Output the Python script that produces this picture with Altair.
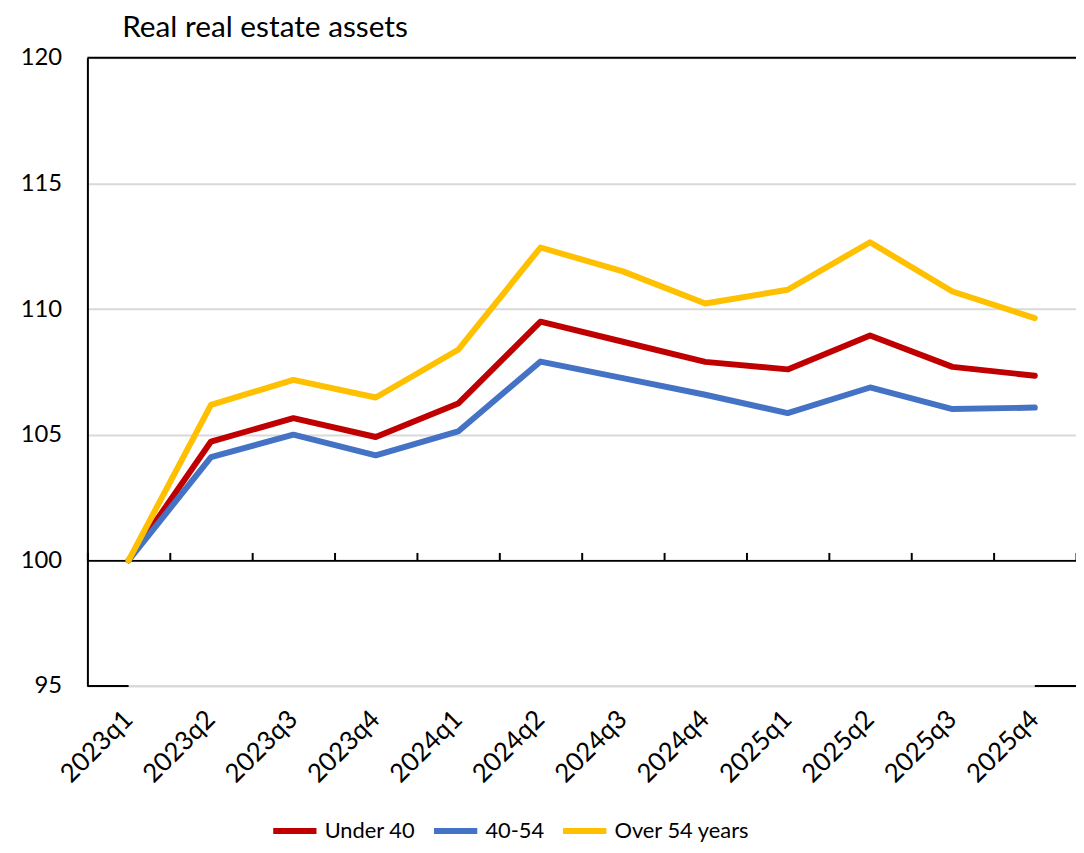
import altair as alt
import pandas as pd

quarters = ["2023q1", "2023q2", "2023q3", "2023q4", "2024q1", "2024q2",
            "2024q3", "2024q4", "2025q1", "2025q2", "2025q3", "2025q4"]
under_40 = [100, 104.73, 105.66, 104.91, 106.24, 109.5, 108.7, 107.9, 107.6, 108.95, 107.7, 107.35]
age_40_54 = [100, 104.11, 105.0, 104.18, 105.13, 107.91, 107.25, 106.59, 105.86, 106.88, 106.02, 106.08]
over_54 = [100, 106.19, 107.18, 106.48, 108.38, 112.45, 111.5, 110.22, 110.77, 112.66, 110.7, 109.64]
series_names = ["Under 40", "40-54", "Over 54 years"]
series_colors = ["#C00000", "#4472C4", "#FFC000"]
y_ticks = [95, 100, 105, 110, 115, 120]
title_text = "Real real estate assets"

rows = []
for name, vals in zip(series_names, [under_40, age_40_54, over_54]):
    for i, (q, v) in enumerate(zip(quarters, vals)):
        rows.append({"quarter": q, "value": v, "series": name,
                     "order": series_names.index(name)})
df = pd.DataFrame(rows)

FONT = "Lato"
W, H = 996, 633

xscale = alt.Scale(type="band", domain=quarters, paddingInner=0, paddingOuter=0)
yscale = alt.Scale(domain=[95, 120], nice=False, zero=False)

lines = alt.Chart(df).mark_line(strokeWidth=6, strokeCap="round", strokeJoin="round").encode(
    x=alt.X("quarter:N", scale=xscale, bandPosition=0.5, sort=quarters,
            axis=alt.Axis(orient="bottom", title=None, domain=False, ticks=False,
                          labelAngle=315, labelAlign="right", labelBaseline="middle",
                          labelFontSize=26, labelFont=FONT, labelColor="black",
                          labelPadding=29, grid=False)),
    y=alt.Y("value:Q", scale=yscale,
            axis=alt.Axis(values=y_ticks, title=None, domain=True, domainColor="black",
                          domainWidth=2, ticks=False, labelFontSize=24, labelFont=FONT,
                          labelColor="black", labelPadding=26, grid=True,
                          gridColor="#d9d9d9", gridWidth=2)),
    color=alt.Color("series:N", scale=alt.Scale(domain=series_names, range=series_colors),
                    legend=alt.Legend(orient="none", legendX=184, legendY=754,
                                      direction="horizontal", title=None,
                                      symbolType="stroke", symbolSize=1900,
                                      symbolStrokeWidth=6, labelFontSize=22,
                                      labelFont=FONT, labelColor="black",
                                      columnPadding=6, labelOffset=5, padding=0)),
    order=alt.Order("order:Q"),
)

tick_axis = alt.Chart(df).mark_line(opacity=0).encode(
    x=alt.X("quarter:N", scale=xscale, bandPosition=0.5, sort=quarters,
            axis=alt.Axis(orient="top", offset=-(H * 5 / 25) * 4, title=None,
                          labels=False, domain=True, domainColor="black", domainWidth=2,
                          ticks=True, tickColor="black", tickWidth=2, tickSize=8,
                          tickBand="extent", grid=False)),
    y=alt.Y("value:Q", scale=yscale),
    detail="series:N",
)

top_rule = alt.Chart(pd.DataFrame({"v": [120]})).mark_rule(color="black", strokeWidth=2).encode(
    y=alt.Y("v:Q", scale=yscale))

bottom_black = alt.Chart(pd.DataFrame({"v": [95]})).mark_rule(color="black", strokeWidth=2).encode(
    y=alt.Y("v:Q", scale=yscale))

bottom_gray = alt.Chart(pd.DataFrame({"v": [95], "a": [quarters[0]], "b": [quarters[-1]]})).mark_rule(
    color="#d9d9d9", strokeWidth=2).encode(
    x=alt.X("a:N", scale=xscale, bandPosition=0.5, axis=None),
    x2=alt.X2("b:N"),
    y=alt.Y("v:Q", scale=yscale))

chart = alt.layer(bottom_black, bottom_gray, top_rule, tick_axis, lines).resolve_axis(
    x="independent").properties(
    width=W, height=H,
    autosize=alt.AutoSizeParams(type="none"),
    padding={"left": 80, "top": 47, "right": 0, "bottom": 154},
    title=alt.TitleParams(title_text, anchor="start", frame="group", fontSize=30,
                          font=FONT, fontWeight="normal", color="black", dx=35, offset=3),
).configure_view(stroke=None).configure(background="white")

chart.save("out.html", embed_options={"renderer": "svg", "actions": False})
